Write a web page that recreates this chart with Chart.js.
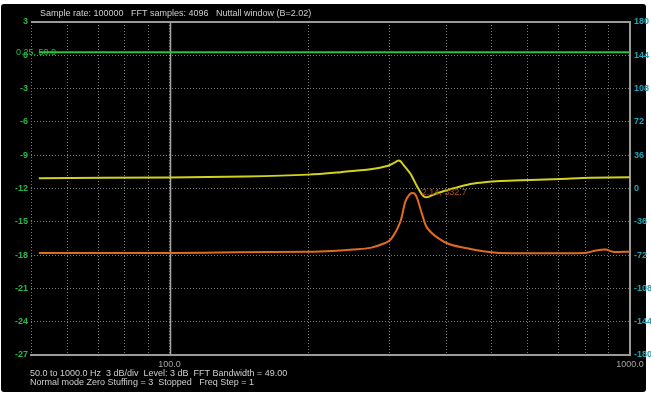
<!DOCTYPE html>
<html>
<head>
<meta charset="utf-8">
<script src="https://cdn.jsdelivr.net/npm/chart.js@4/dist/chart.umd.min.js"></script>
<style>
  body { margin: 0; background: #fff; }
  #wrap { position: relative; width: 651px; height: 397px; overflow: hidden; }
  #panel { position: absolute; left: 1px; top: 4px; width: 645px; height: 388px; background: #000; border-radius: 3px; }
  #fft { position: absolute; left: 0; top: 0; }
  .txt { position: absolute; color: #cfcfcf; font: 9px "Liberation Sans", sans-serif; white-space: pre; line-height: 9px; }
</style>
</head>
<body>
<div id="wrap">
  <div id="panel"></div>
  <canvas id="fft" width="651" height="397"></canvas>
  <div class="txt" style="left:40px; top:9px;">Sample rate: 100000   FFT samples: 4096   Nuttall window (B=2.02)</div>
  <div class="txt" style="left:30px; top:369px;">50.0 to 1000.0 Hz  3 dB/div  Level: 3 dB  FFT Bandwidth = 49.00</div>
  <div class="txt" style="left:30px; top:378px;">Normal mode Zero Stuffing = 3  Stopped   Freq Step = 1</div>
</div>
<script>
/* ====== DATEN ====== */
const xTicks = [50, 60, 70, 80, 90, 100, 200, 300, 400, 500, 600, 700, 800, 900, 1000];
const xLabels = { 100: "100.0", 1000: "1000.0" };

// Grün: Pegel (dB, linke Achse)
const greenFreq = [52, 1000];
const greenDb   = [0.28, 0.28];

// Gelb: Phase (Grad, rechte Achse)
const yellowFreq = [52, 100, 146, 200, 235, 253, 273, 297, 308, 313, 317, 322, 333, 345, 354, 359, 366, 381, 414, 450, 473, 523, 608, 706, 821, 1000];
const yellowDeg  = [11.2, 12.0, 13.0, 15.0, 17.6, 19.3, 20.8, 24.3, 28.0, 30.0, 29.6, 25.5, 16.4, 2.0, -7.0, -9.3, -8.8, -5.2, 0.2, 4.9, 6.3, 8.1, 9.2, 10.3, 11.5, 12.1];

// Orange: Betrag (dB, linke Achse)
const orangeFreq = [52, 100, 140, 200, 230, 250, 273, 290, 302, 317, 325, 331, 336, 341, 345, 354, 362, 381, 407, 450, 480, 520, 800, 840, 885, 917, 1000];
const orangeDb   = [-17.8, -17.8, -17.75, -17.7, -17.6, -17.5, -17.35, -17.0, -16.6, -15.0, -13.2, -12.6, -12.4, -12.5, -12.9, -14.4, -15.5, -16.4, -17.05, -17.45, -17.65, -17.8, -17.8, -17.6, -17.5, -17.7, -17.7];

// Cursor-Anzeigen
const greenReadout  = { db: 0.28, text: "0.25, 50.0" };
const orangeReadout = { freq: 353, db: -12.35, text: "2.14, 332.7" };

/* ====== HELPERS ====== */
const pts = (xs, ys) => xs.map((x, i) => ({ x, y: ys[i] }));
const GRID = "#7c7c7c";
const FRAME = "#9a9a9a";

/* ====== DEKOR-PLUGIN ====== */
const decor = {
  id: "decor",
  beforeDatasetsDraw(chart) {
    const { ctx, chartArea: a, scales } = chart;
    const x100 = Math.round(scales.x.getPixelForValue(100)) + 0.5;
    ctx.save();
    ctx.strokeStyle = "#a8a8a8";
    ctx.lineWidth = 1.5;
    ctx.beginPath();
    ctx.moveTo(x100, a.top);
    ctx.lineTo(x100, a.bottom);
    ctx.stroke();
    ctx.restore();
  },
  afterDatasetsDraw(chart) {
    const { ctx, chartArea: a, scales } = chart;
    ctx.save();
    ctx.strokeStyle = FRAME;
    ctx.lineWidth = 2;
    ctx.beginPath();
    ctx.moveTo(a.left, a.top);
    ctx.lineTo(a.right + 1, a.top);
    ctx.stroke();

    ctx.font = "9px 'Liberation Sans', sans-serif";
    ctx.textBaseline = "middle";
    ctx.fillStyle = "#27b84a";
    ctx.fillText(greenReadout.text, 16, scales.y.getPixelForValue(greenReadout.db));
    ctx.fillStyle = "#b4521f";
    ctx.fillText(orangeReadout.text, scales.x.getPixelForValue(orangeReadout.freq), scales.y.getPixelForValue(orangeReadout.db));
    ctx.restore();
  }
};

/* ====== CHART ====== */
const line = (data, color, axis) => ({
  data, borderColor: color, borderWidth: 2, pointRadius: 0, fill: false,
  tension: 0.3, yAxisID: axis
});

new Chart(document.getElementById("fft"), {
  type: "line",
  data: {
    datasets: [
      line(pts(greenFreq, greenDb), "#2fc23a", "y"),
      line(pts(yellowFreq, yellowDeg), "#d2d21e", "y2"),
      line(pts(orangeFreq, orangeDb), "#e06c22", "y")
    ]
  },
  options: {
    responsive: false,
    animation: false,
    devicePixelRatio: 1,
    layout: { padding: { top: 22, left: 0, right: 0, bottom: 0 } },
    plugins: { legend: { display: false }, tooltip: { enabled: false } },
    scales: {
      x: {
        type: "logarithmic", min: 50, max: 1000,
        afterBuildTicks: s => { s.ticks = xTicks.map(v => ({ value: v })); },
        afterFit: s => { s.height = 42; },
        ticks: {
          autoSkip: false, maxRotation: 0, padding: 4,
          color: "#a4a4a4", font: { family: "Liberation Sans", size: 9 },
          callback: v => xLabels[v] || ""
        },
        grid: { color: GRID, lineWidth: 1, drawTicks: false },
        border: { display: true, color: FRAME, width: 2, dash: [1, 2] }
      },
      y: {
        position: "left", min: -27, max: 3,
        afterFit: s => { s.width = 31; },
        ticks: {
          stepSize: 3, padding: 3,
          color: "#27b84a", font: { family: "Liberation Sans", size: 9, weight: "bold" }
        },
        grid: { color: GRID, lineWidth: 1, drawTicks: false },
        border: { display: false, dash: [1, 2] }
      },
      y2: {
        position: "right", min: -180, max: 180,
        afterFit: s => { s.width = 21; },
        ticks: {
          stepSize: 36, padding: 4,
          color: "#1ea6b4", font: { family: "Liberation Sans", size: 9, weight: "bold" }
        },
        grid: { display: false, drawTicks: false },
        border: { display: true, color: FRAME, width: 2 }
      }
    }
  },
  plugins: [decor]
});
</script>
</body>
</html>
